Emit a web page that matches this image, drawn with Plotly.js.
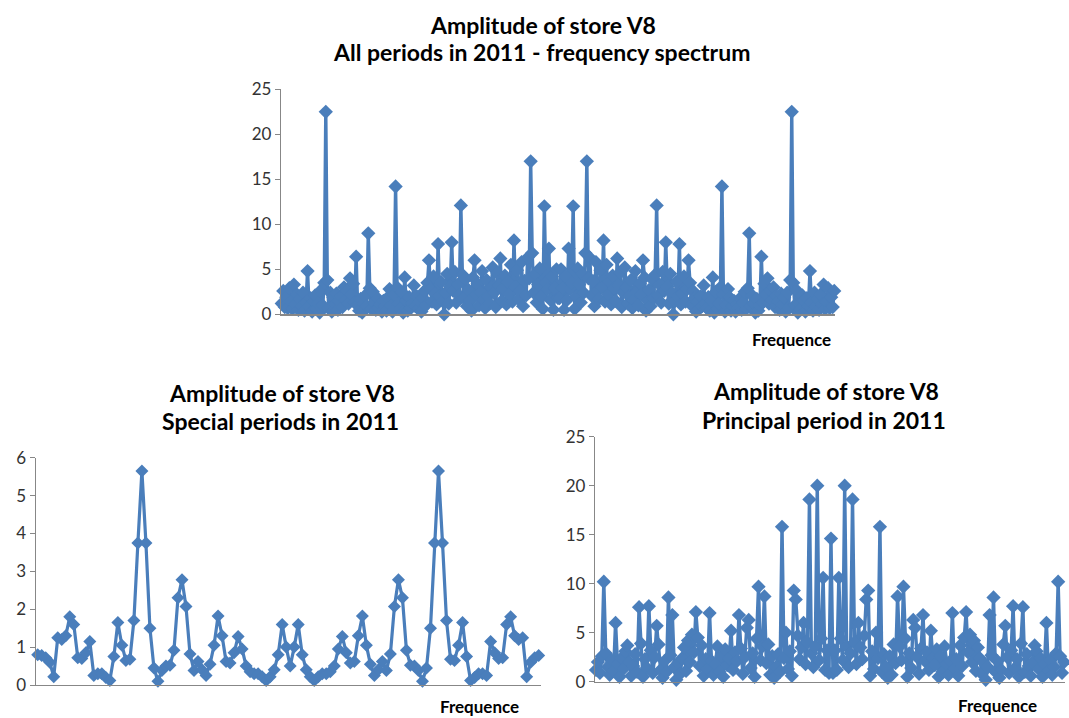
<!DOCTYPE html>
<html>
<head>
<meta charset="utf-8">
<script src="https://cdn.plot.ly/plotly-3.0.1.min.js"></script>
<style>html,body{margin:0;padding:0;background:#fff;}#chart{width:1069px;height:718px;}</style>
</head>
<body>
<div id="chart"></div>
<script>
// ---- Data ----
const titleAll = ["Amplitude of store V8", "All periods in 2011 - frequency spectrum"];
const titleSpecial = ["Amplitude of store V8", "Special periods in 2011"];
const titlePrincipal = ["Amplitude of store V8", "Principal period in 2011"];
const xLabel = "Frequence";

const yTicksAll = [0, 5, 10, 15, 20, 25];
const yTicksSpecial = [0, 1, 2, 3, 4, 5, 6];
const yTicksPrincipal = [0, 5, 10, 15, 20, 25];

// All periods in 2011 (365 frequency bins)
const amplitudeAll = [
1.2,2.6,0.8,1.9,0.7,2.9,1.4,0.6,3.3,1.1,
2.2,0.5,1.7,0.9,2.4,0.4,1.3,4.8,0.9,1.8,
0.3,1.5,2.1,0.6,1.2,0.2,2.7,1.0,3.5,22.5,
3.8,0.7,2.4,0.3,1.9,1.1,2.3,0.5,1.4,2.0,
0.8,3.0,1.6,2.6,1.2,4.0,2.2,3.4,1.3,6.4,
1.0,0.4,1.7,0.2,1.2,2.1,0.9,9.0,2.9,0.6,
2.5,1.3,0.5,1.8,0.7,1.1,0.3,1.5,0.9,0.4,
1.9,2.8,1.0,0.3,2.2,14.2,3.0,1.2,0.6,2.5,
0.2,4.1,1.5,0.4,1.9,0.7,1.2,3.2,0.9,2.0,
0.6,1.4,0.3,1.8,2.6,1.0,3.5,6.0,2.8,1.4,
4.2,2.3,1.1,7.8,2.0,3.6,1.5,0.0,2.4,4.5,
1.2,3.1,8.0,2.6,4.7,1.3,3.3,2.1,12.1,4.4,
1.8,3.9,0.9,2.7,1.5,0.4,4.1,6.0,2.2,3.4,
1.0,2.5,4.8,1.6,0.7,3.8,2.0,1.2,3.0,5.2,
2.4,0.8,4.6,3.2,6.2,1.5,2.9,4.3,1.1,3.6,
2.2,5.5,1.4,8.2,3.0,4.9,1.7,2.6,5.8,0.9,
3.7,2.1,6.3,4.0,17.0,6.8,2.4,4.5,1.3,3.3,
5.1,2.0,0.6,12.0,3.5,2.8,7.3,1.6,4.2,0.5,
2.9,5.0,1.8,
1.8,5.0,2.9,0.5,4.2,1.6,7.3,2.8,3.5,12.0,
0.6,2.0,5.1,3.3,1.3,4.5,2.4,6.8,17.0,4.0,
6.3,2.1,3.7,0.9,5.8,2.6,1.7,4.9,3.0,8.2,
1.4,5.5,2.2,3.6,1.1,4.3,2.9,1.5,6.2,3.2,
4.6,0.8,2.4,5.2,3.0,1.2,2.0,3.8,0.7,1.6,
4.8,2.5,1.0,3.4,2.2,6.0,4.1,0.4,1.5,2.7,
0.9,3.9,1.8,4.4,12.1,2.1,3.3,1.3,4.7,2.6,
8.0,3.1,1.2,4.5,2.4,0.0,1.5,3.6,2.0,7.8,
1.1,2.3,4.2,1.4,2.8,6.0,3.5,1.0,2.6,1.8,
0.3,1.4,0.6,2.0,0.9,3.2,1.2,0.7,1.9,0.4,
1.5,4.1,0.2,2.5,0.6,1.2,3.0,14.2,2.2,0.3,
1.0,2.8,1.9,0.4,0.9,1.5,0.3,1.1,0.7,1.8,
0.5,1.3,2.5,0.6,2.9,9.0,0.9,2.1,1.2,0.2,
1.7,0.4,1.0,6.4,1.3,3.4,2.2,4.0,1.2,2.6,
1.6,3.0,0.8,2.0,1.4,0.5,2.3,1.1,1.9,0.3,
2.4,0.7,3.8,22.5,3.5,1.0,2.7,0.2,1.2,0.6,
2.1,1.5,0.3,1.8,0.9,4.8,1.3,0.4,2.4,0.9,
1.7,0.5,2.2,1.1,3.3,0.6,1.4,2.9,0.7,1.9,
0.8,2.6
];

// Special periods in 2011 (126 frequency bins)
const amplitudeSpecial = [
0.8,0.78,0.72,0.6,0.22,1.25,1.2,1.3,1.8,1.6,
0.72,0.7,0.85,1.15,0.25,0.3,0.3,0.2,0.12,0.75,
1.65,1.05,0.65,0.68,1.7,3.75,5.65,3.75,1.5,0.45,
0.1,0.38,0.5,0.52,0.92,2.3,2.78,2.07,0.82,0.38,
0.62,0.4,0.25,0.55,1.05,1.82,1.3,0.62,0.58,0.85,
1.28,0.95,0.5,0.35,0.3,0.3,0.22,0.12,0.22,0.4,
0.8,1.6,1.0,0.5,
1.0,1.6,0.8,0.4,0.22,0.12,0.22,0.3,0.3,0.35,
0.5,0.95,1.28,0.85,0.58,0.62,1.3,1.82,1.05,0.55,
0.25,0.4,0.62,0.38,0.82,2.07,2.78,2.3,0.92,0.52,
0.5,0.38,0.1,0.45,1.5,3.75,5.65,3.75,1.7,0.68,
0.65,1.05,1.65,0.75,0.12,0.2,0.3,0.3,0.25,1.15,
0.85,0.7,0.72,1.6,1.8,1.3,1.2,1.25,0.22,0.6,
0.72,0.78
];

// Principal period in 2011 (240 frequency bins)
const amplitudePrincipal = [
1.2,2.0,0.9,2.6,10.2,2.9,1.5,0.7,2.2,1.1,
6.0,1.8,0.5,2.4,1.3,3.1,3.7,2.0,0.6,1.6,
2.8,1.0,7.6,3.9,0.5,2.3,1.4,7.7,3.2,0.9,
2.5,5.7,3.8,1.2,0.4,2.1,1.0,8.6,2.7,6.8,
1.5,0.2,1.9,0.8,2.4,3.5,1.1,4.2,2.0,4.8,
3.0,7.1,4.5,1.6,3.7,0.6,2.3,1.3,7.0,2.1,
0.7,1.8,3.6,1.0,2.6,0.5,3.3,1.7,2.4,5.2,
1.2,3.0,2.1,6.8,3.4,0.8,2.5,5.5,6.3,1.4,
2.9,0.5,4.4,9.7,2.2,3.6,8.7,1.9,3.8,0.7,
2.6,0.4,1.5,2.8,1.0,15.8,2.4,5.0,1.3,3.1,
0.6,9.3,8.4,4.7,2.3,3.5,6.0,1.8,4.0,18.6,
2.9,1.5,3.6,20.0,2.2,4.4,10.6,1.2,3.2,0.9,
14.6,
0.9,3.2,1.2,10.6,4.4,2.2,20.0,3.6,1.5,2.9,
18.6,4.0,1.8,6.0,3.5,2.3,4.7,8.4,9.3,0.6,
3.1,1.3,5.0,2.4,15.8,1.0,2.8,1.5,0.4,2.6,
0.7,3.8,1.9,8.7,3.6,2.2,9.7,4.4,0.5,2.9,
1.4,6.3,5.5,2.5,0.8,3.4,6.8,2.1,3.0,1.2,
5.2,2.4,1.7,3.3,0.5,2.6,1.0,3.6,1.8,0.7,
2.1,7.0,1.3,2.3,0.6,3.7,1.6,4.5,7.1,3.0,
4.8,2.0,4.2,1.1,3.5,2.4,0.8,1.9,0.2,1.5,
6.8,2.7,8.6,1.0,2.1,0.4,1.2,3.8,5.7,2.5,
0.9,3.2,7.7,1.4,2.3,0.5,3.9,7.6,1.0,2.8,
1.6,0.6,2.0,3.7,3.1,1.3,2.4,0.5,1.8,6.0,
1.1,2.2,0.7,1.5,2.9,10.2,2.6,0.9,2.0
];

// ---- Styling / layout ----
const W = 1069, H = 718;
const BLUE = '#4A7EBB';
const AXIS = '#878787';
const FONT = 'Lato, "Open Sans", sans-serif';
const px = v => v / W;
const py = v => 1 - v / H;

function trace(y, xa, ya, msize, lw) {
  return {
    y: y, xaxis: xa, yaxis: ya, type: 'scatter', mode: 'lines+markers',
    line: {color: BLUE, width: lw},
    marker: {symbol: 'diamond', size: msize, color: BLUE, line: {width: 0}},
    cliponaxis: false, hoverinfo: 'y', showlegend: false
  };
}

function xAx(n, d0, d1) {
  return {domain: [px(d0), px(d1)], range: [-0.5, n - 0.5], showticklabels: false,
    ticks: '', showgrid: false, zeroline: false, showline: true, linecolor: AXIS, linewidth: 1.2, fixedrange: true};
}
function yAx(ticks, top, bottom, anchor) {
  return {domain: [py(bottom), py(top)], range: [ticks[0], ticks[ticks.length - 1]],
    tickvals: ticks, ticktext: ticks.map(String), ticks: 'outside', ticklen: 5, tickcolor: AXIS,
    showgrid: false, zeroline: false, showline: true, linecolor: AXIS, linewidth: 1.2,
    tickfont: {family: FONT, size: 17, color: '#333'}, anchor: anchor, fixedrange: true};
}

function ann(text, x, y, size) {
  return {text: '<b>' + text + '</b>', xref: 'paper', yref: 'paper', x: px(x), y: py(y),
    xanchor: 'center', yanchor: 'middle', showarrow: false,
    font: {family: FONT, size: size, color: '#000'}};
}

const data = [
  trace(amplitudeAll, 'x', 'y', 11, 3.4),
  trace(amplitudeSpecial, 'x2', 'y2', 10, 3.2),
  trace(amplitudePrincipal, 'x3', 'y3', 11, 3.4)
];

const layout = {
  width: W, height: H, margin: {l: 0, r: 0, t: 0, b: 0},
  paper_bgcolor: '#fff', plot_bgcolor: 'rgba(0,0,0,0)',
  xaxis: Object.assign(xAx(amplitudeAll.length, 281, 835), {anchor: 'y'}),
  yaxis: yAx(yTicksAll, 89.3, 314.3, 'x'),
  xaxis2: Object.assign(xAx(amplitudeSpecial.length, 35.7, 540.7), {anchor: 'y2'}),
  yaxis2: yAx(yTicksSpecial, 457.7, 685, 'x2'),
  xaxis3: Object.assign(xAx(amplitudePrincipal.length, 595, 1065), {anchor: 'y3'}),
  yaxis3: yAx(yTicksPrincipal, 436.7, 681.7, 'x3'),
  annotations: [
    ann(titleAll[0], 543, 25, 23),
    ann(titleAll[1], 541, 52, 23),
    ann(titleSpecial[0], 281.5, 393, 23),
    ann(titleSpecial[1], 280.5, 421, 23),
    ann(titlePrincipal[0], 825.5, 391, 23),
    ann(titlePrincipal[1], 824, 420, 23),
    ann(xLabel, 791.5, 340, 17),
    ann(xLabel, 479.5, 706, 17),
    ann(xLabel, 997.5, 705, 17)
  ]
};

Plotly.newPlot('chart', data, layout, {displayModeBar: false, staticPlot: true});
</script>
</body>
</html>
